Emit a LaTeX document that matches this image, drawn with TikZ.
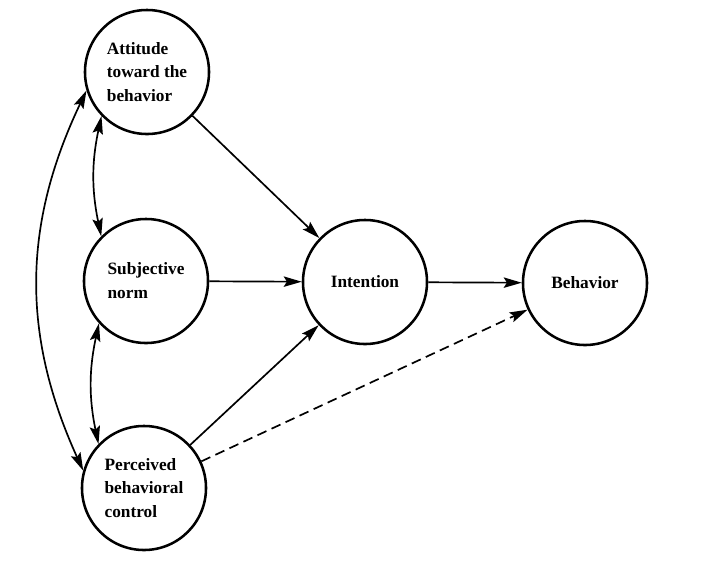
\documentclass[tikz,border=0pt]{standalone}
\usepackage{fontspec}
\setmainfont{Liberation Serif}
\usepackage{tikz}
\usetikzlibrary{arrows.meta}

\begin{document}
\begin{tikzpicture}[x=0.025cm, y=-0.025cm,
  every node/.style={font=\bfseries\fontsize{12.3}{17}\selectfont},
  construct/.style={draw, circle, line width=1.8pt, minimum size=3.1cm, inner sep=0pt, align=left},
  link/.style={-{Stealth[length=4.5mm, width=2.6mm, inset=0.8mm]}, line width=1.2pt},
  twoway/.style={{Stealth[length=4.5mm, width=2.6mm, inset=0.8mm]}-{Stealth[length=4.5mm, width=2.6mm, inset=0.8mm]}, line width=1.2pt}]
\useasboundingbox (0,0) rectangle (713,562);

\node[construct] (att) at (147,72) {Attitude\\toward the\\behavior};
\node[construct] (subj) at (146,281) {Subjective\\norm};
\node[construct] (perc) at (144,488) {Perceived\\behavioral\\control};
\node[construct] (int) at (365,282) {Intention};
\node[construct] (beh) at (585,283) {Behavior};

% predictors of intention
\draw[link] (att) -- (int);
\draw[link] (subj) -- (int);
\draw[link] (perc) -- (int);
\draw[link] (int) -- (beh);
\draw[link, dash pattern=on 7pt off 4pt] (perc) -- (beh);

% correlations between predictors
\draw[twoway] (att.224) to[bend right=12] (subj.135);
\draw[twoway] (subj.222) to[bend right=12] (perc.136);
\draw[twoway] (att.197) to[bend right=25] (perc.164);
\end{tikzpicture}
\end{document}
